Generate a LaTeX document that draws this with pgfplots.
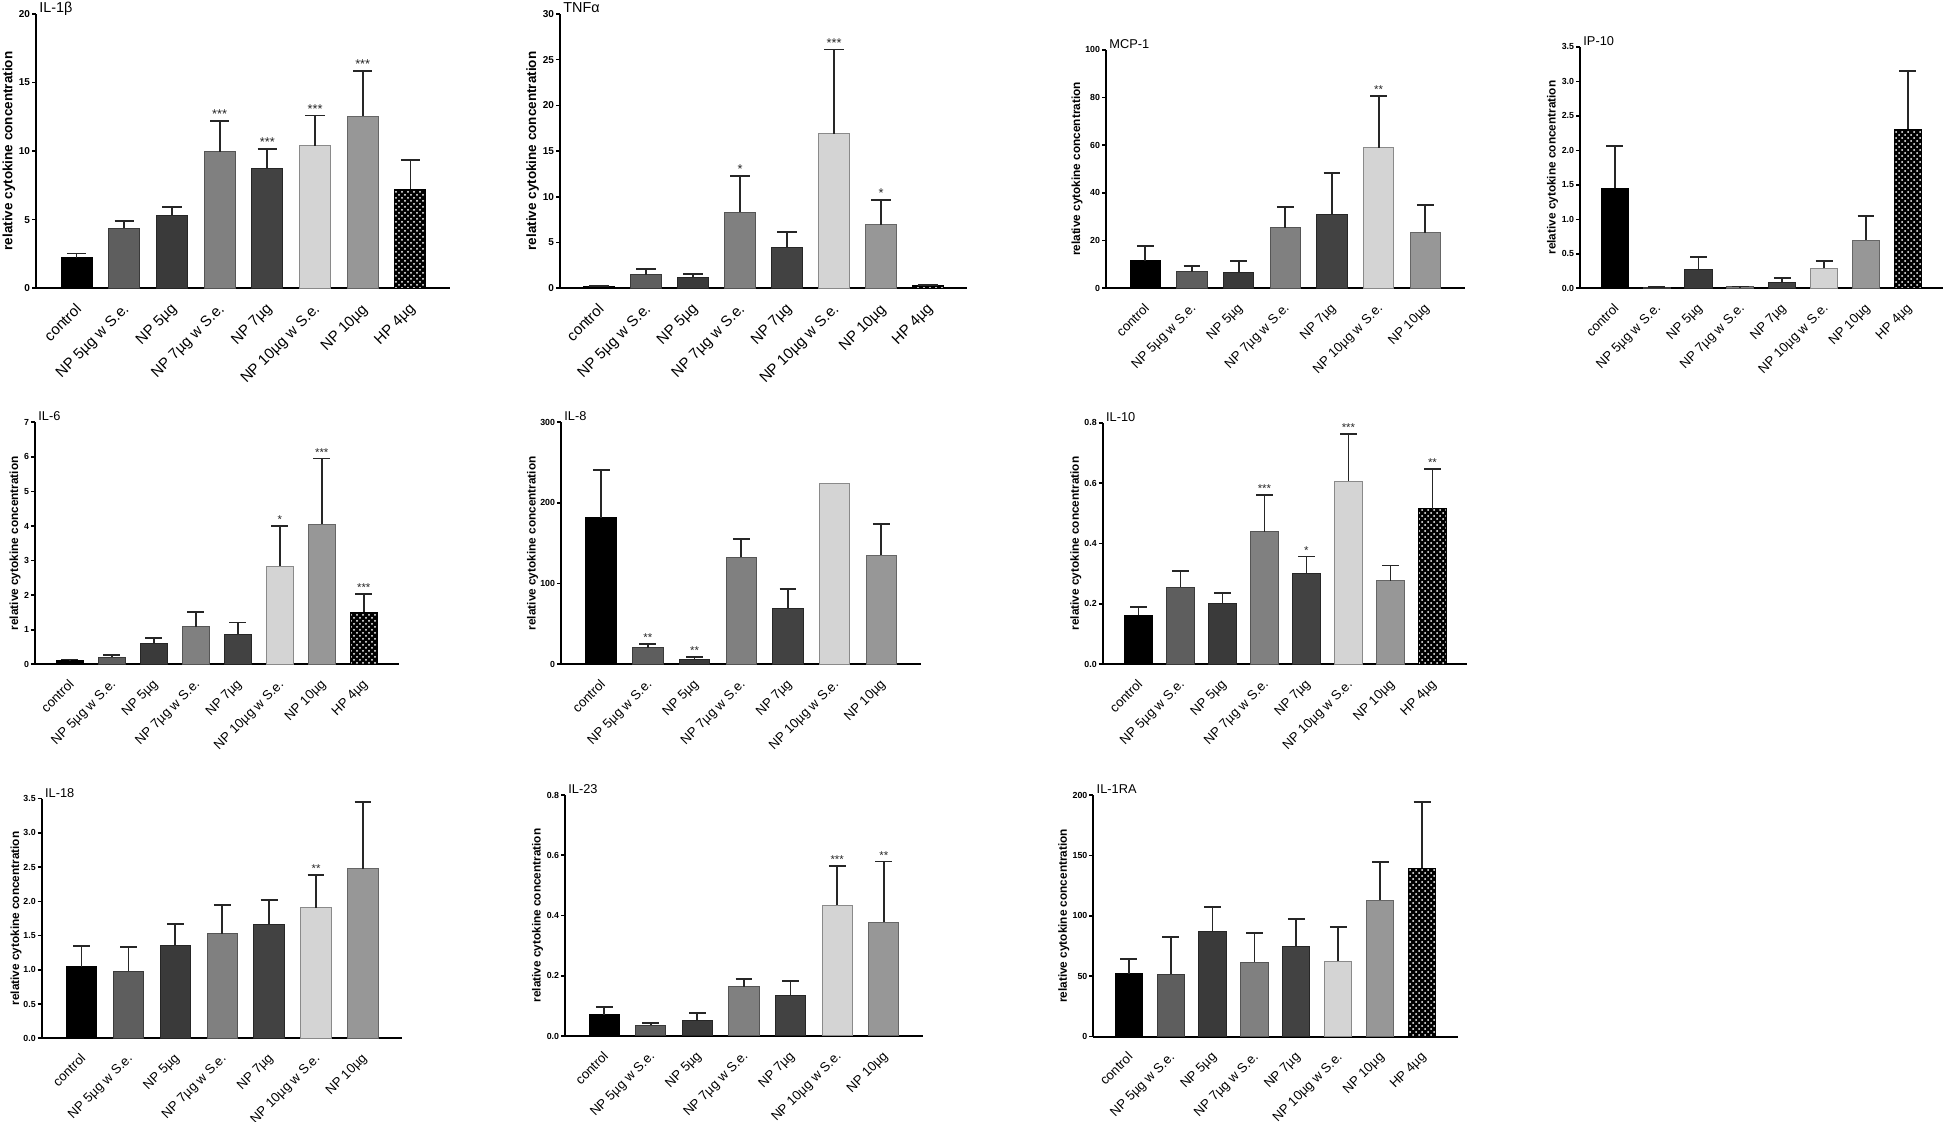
\documentclass[border=0pt]{standalone}
\usepackage{fontspec}
\setmainfont{Liberation Sans}
\usepackage{pgfplots}
\pgfplotsset{compat=1.18}
\usetikzlibrary{patterns}
\definecolor{c1}{HTML}{5E5E5E}\definecolor{c1d}{HTML}{3A3A3A}
\definecolor{c2}{HTML}{3A3A3A}\definecolor{c2d}{HTML}{262626}
\definecolor{c3}{HTML}{808080}\definecolor{c3d}{HTML}{555555}
\definecolor{c4}{HTML}{424242}\definecolor{c4d}{HTML}{262626}
\definecolor{c5}{HTML}{D4D4D4}\definecolor{c5d}{HTML}{8A8A8A}
\definecolor{c6}{HTML}{979797}\definecolor{c6d}{HTML}{666666}
\newcommand{\fs}[1]{\fontsize{#1}{#1}\selectfont}
\def\capsz{4pt}
\def\starfont{\fs{5.5}}
\pgfplotsset{
  b0/.style={fill=black, draw=black},
  b1/.style={fill=c1, draw=c1d},
  b2/.style={fill=c2, draw=c2d},
  b3/.style={fill=c3, draw=c3d},
  b4/.style={fill=c4, draw=c4d},
  b5/.style={fill=c5, draw=c5d},
  b6/.style={fill=c6, draw=c6d},
  b7/.style={fill=black, draw=black, postaction={pattern=crosshatch dots, pattern color=white}},
  cyto/.style={
    scale only axis, clip=false,
    axis x line=bottom, axis y line=left,
    axis line style={-, line width=0.9pt, black},
    ymin=0,
    xtick style={draw=none},
    ytick style={line width=0.8pt, black},
    tick align=outside, major tick length=2pt,
    /pgf/number format/assume math mode=true,
    scaled y ticks=false,
    yticklabel style={inner sep=0.8pt},
    xticklabel style={xshift=-1pt, yshift=-3.5pt, rotate=45, anchor=north east, inner sep=1pt},
    every axis title/.style={at={(axis description cs:0,1)}, anchor=base west, xshift=1.5pt, yshift=0.8pt, inner sep=0pt},
    ylabel={relative cytokine concentration},
  },
  fontB/.style={yticklabel style={font=\bfseries\fs{5}}, ylabel style={font=\bfseries\fs{6.75}}, title style={font=\fs{7.2}}, xticklabel style={font=\fs{7.5}}},
  fontN/.style={yticklabel style={font=\bfseries\fs{4.4}}, ylabel style={font=\bfseries\fs{5.9}}, title style={font=\fs{6.4}}, xticklabel style={font=\fs{6.6}}},
  dec1/.style={yticklabel style={/pgf/number format/fixed, /pgf/number format/fixed zerofill, /pgf/number format/precision=1}},
  cats8/.style={xtick={0,...,7}, xticklabels={control,NP 5µg w S.e.,NP 5µg,NP 7µg w S.e.,NP 7µg,NP 10µg w S.e.,NP 10µg,HP 4µg}},
  cats7/.style={xtick={0,...,6}, xticklabels={control,NP 5µg w S.e.,NP 5µg,NP 7µg w S.e.,NP 7µg,NP 10µg w S.e.,NP 10µg}},
}
\newcommand{\B}[3]{\addplot[ybar, bar width=0.65, bar shift=0pt, line width=0.5pt, b#1,
   error bars/.cd, y dir=plus, y explicit, error mark=|,
   error bar style={line width=0.9pt, draw=black!85, solid},
   error mark options={line width=0.9pt, mark size=\capsz, draw=black!85, solid}]
   coordinates {(#1,#2) +- (0,#3)};}
\newcommand{\Bn}[2]{\addplot[ybar, bar width=0.65, bar shift=0pt, line width=0.5pt, b#1] coordinates {(#1,#2)};}
\newcommand{\St}[3]{\addplot[draw=none, mark=none, nodes near coords, point meta=explicit symbolic,
   every node near coord/.style={font=\starfont, anchor=base, inner sep=0pt, yshift=1.2pt, text=black!85}]
   coordinates {(#1,#2) [#3]};}
\begin{document}
\begin{tikzpicture}
\path[use as bounding box] (0,0) rectangle (973pt,561pt);
% ---------------- IL-1beta
\def\capsz{4.8pt}\def\starfont{\fs{6.4}}
\begin{axis}[cyto, fontB, cats8, at={(18pt,416.85pt)}, anchor=south west, width=207pt, height=137.2pt,
  ymax=20, ytick={0,5,10,15,20}, xmin=-0.85, xmax=7.83, title={IL-1β},
  ylabel style={at={(axis description cs:-0.0652,0.5)}, anchor=center}]
\B{0}{2.24}{0.29}
\B{1}{4.37}{0.54}
\B{2}{5.30}{0.65}
\B{3}{9.96}{2.26}
\B{4}{8.75}{1.38}
\B{5}{10.40}{2.19}
\B{6}{12.54}{3.30}
\B{7}{7.22}{2.11}
\St{3}{12.22}{***}
\St{4}{10.13}{***}
\St{5}{12.59}{***}
\St{6}{15.84}{***}
\end{axis}
% ---------------- TNFalpha
\begin{axis}[cyto, fontB, cats8, at={(280pt,416.85pt)}, anchor=south west, width=203.3pt, height=137.2pt,
  ymax=30, ytick={0,5,10,15,20,25,30}, xmin=-0.83, xmax=7.82, title={TNFα},
  ylabel style={at={(axis description cs:-0.0676,0.5)}, anchor=center}]
\B{0}{0.18}{0.11}
\B{1}{1.46}{0.62}
\B{2}{1.13}{0.40}
\B{3}{8.31}{3.98}
\B{4}{4.45}{1.71}
\B{5}{16.9}{9.2}
\B{6}{6.93}{2.73}
\B{7}{0.29}{0.11}
\St{3}{12.29}{*}
\St{5}{26.1}{***}
\St{6}{9.66}{*}
\end{axis}
% ---------------- MCP-1
\def\capsz{4.2pt}\def\starfont{\fs{5.7}}
\begin{axis}[cyto, fontN, cats7, at={(553pt,416.85pt)}, anchor=south west, width=179.5pt, height=119.2pt,
  ymax=100, ytick={0,20,40,60,80,100}, xmin=-0.84, xmax=6.85, title={MCP-1},
  ylabel style={at={(axis description cs:-0.0808,0.5)}, anchor=center}]
\B{0}{11.5}{6.3}
\B{1}{6.85}{2.35}
\B{2}{6.7}{4.9}
\B{3}{25.3}{8.8}
\B{4}{31.0}{17.3}
\B{5}{59.0}{21.8}
\B{6}{23.2}{11.9}
\St{5}{80.8}{**}
\end{axis}
% ---------------- IP-10
\begin{axis}[cyto, fontN, dec1, cats8, at={(790pt,416.85pt)}, anchor=south west, width=181.5pt, height=120.7pt,
  ymax=3.5, ytick={0,0.5,1,1.5,2,2.5,3,3.5}, xmin=-0.83, xmax=7.84, title={IP-10},
  ylabel style={at={(axis description cs:-0.0758,0.5)}, anchor=center}]
\B{0}{1.45}{0.61}
\B{1}{0.015}{0.005}
\B{2}{0.275}{0.18}
\B{3}{0.02}{0.005}
\B{4}{0.077}{0.068}
\B{5}{0.29}{0.10}
\B{6}{0.70}{0.35}
\B{7}{2.305}{0.845}
\end{axis}
% ---------------- IL-6
\begin{axis}[cyto, fontN, cats8, at={(17.5pt,228.85pt)}, anchor=south west, width=182pt, height=121pt,
  ymax=7, ytick={0,1,2,3,4,5,6,7}, xmin=-0.83, xmax=7.84, title={IL-6},
  ylabel style={at={(axis description cs:-0.0549,0.5)}, anchor=center}]
\B{0}{0.106}{0.034}
\B{1}{0.20}{0.06}
\B{2}{0.60}{0.15}
\B{3}{1.08}{0.43}
\B{4}{0.85}{0.36}
\B{5}{2.84}{1.16}
\B{6}{4.05}{1.90}
\B{7}{1.50}{0.53}
\St{5}{4.0}{*}
\St{6}{5.95}{***}
\St{7}{2.03}{***}
\end{axis}
% ---------------- IL-8
\begin{axis}[cyto, fontN, cats7, at={(280.5pt,228.85pt)}, anchor=south west, width=180pt, height=121pt,
  ymax=300, ytick={0,100,200,300}, xmin=-0.86, xmax=6.85, title={IL-8},
  ylabel style={at={(axis description cs:-0.0792,0.5)}, anchor=center}]
\B{0}{181.8}{59.1}
\B{1}{20.2}{5.0}
\B{2}{6.2}{2.5}
\B{3}{133}{22}
\B{4}{69}{24.8}
\Bn{5}{224}
\B{6}{135}{39}
\St{1}{25.2}{**}
\St{2}{8.7}{**}
\end{axis}
% ---------------- IL-10
\begin{axis}[cyto, fontN, dec1, cats8, at={(551.35pt,228.85pt)}, anchor=south west, width=182.3pt, height=120.8pt,
  ymax=0.8, ytick={0,0.2,0.4,0.6,0.8}, xmin=-0.85, xmax=7.83, title={IL-10},
  ylabel style={at={(axis description cs:-0.0741,0.5)}, anchor=center}]
\B{0}{0.162}{0.027}
\B{1}{0.255}{0.054}
\B{2}{0.202}{0.033}
\B{3}{0.439}{0.122}
\B{4}{0.302}{0.055}
\B{5}{0.606}{0.157}
\B{6}{0.277}{0.050}
\B{7}{0.515}{0.133}
\St{3}{0.561}{***}
\St{4}{0.357}{*}
\St{5}{0.763}{***}
\St{7}{0.648}{**}
\end{axis}
% ---------------- IL-18
\begin{axis}[cyto, fontN, dec1, cats7, at={(20.85pt,41.85pt)}, anchor=south west, width=180.3pt, height=119.8pt,
  ymax=3.5, ytick={0,0.5,1,1.5,2,2.5,3,3.5}, xmin=-0.85, xmax=6.84, title={IL-18},
  ylabel style={at={(axis description cs:-0.0713,0.5)}, anchor=center}]
\B{0}{1.047}{0.306}
\B{1}{0.983}{0.347}
\B{2}{1.353}{0.317}
\B{3}{1.524}{0.428}
\B{4}{1.665}{0.36}
\B{5}{1.904}{0.482}
\B{6}{2.478}{0.969}
\St{5}{2.386}{**}
\end{axis}
% ---------------- IL-23
\begin{axis}[cyto, fontN, dec1, cats7, at={(282.5pt,43pt)}, anchor=south west, width=179.2pt, height=120.5pt,
  ymax=0.8, ytick={0,0.2,0.4,0.6,0.8}, xmin=-0.84, xmax=6.85, title={IL-23},
  ylabel style={at={(axis description cs:-0.0767,0.5)}, anchor=center}]
\B{0}{0.0708}{0.0242}
\B{1}{0.0354}{0.0066}
\B{2}{0.053}{0.0245}
\B{3}{0.163}{0.027}
\B{4}{0.134}{0.049}
\B{5}{0.434}{0.131}
\B{6}{0.377}{0.202}
\St{5}{0.565}{***}
\St{6}{0.579}{**}
\end{axis}
% ---------------- IL-1RA
\begin{axis}[cyto, fontN, cats8, at={(546.65pt,42.65pt)}, anchor=south west, width=182.2pt, height=120.8pt,
  ymax=200, ytick={0,50,100,150,200}, xmin=-0.845, xmax=7.85, title={IL-1RA},
  ylabel style={at={(axis description cs:-0.0812,0.5)}, anchor=center}]
\B{0}{52.1}{11.9}
\B{1}{51.9}{30.6}
\B{2}{87.2}{20.4}
\B{3}{61.8}{24.3}
\B{4}{74.5}{23.2}
\B{5}{62.3}{28.2}
\B{6}{113.1}{31.5}
\B{7}{139.6}{54.9}
\end{axis}
\end{tikzpicture}
\end{document}
